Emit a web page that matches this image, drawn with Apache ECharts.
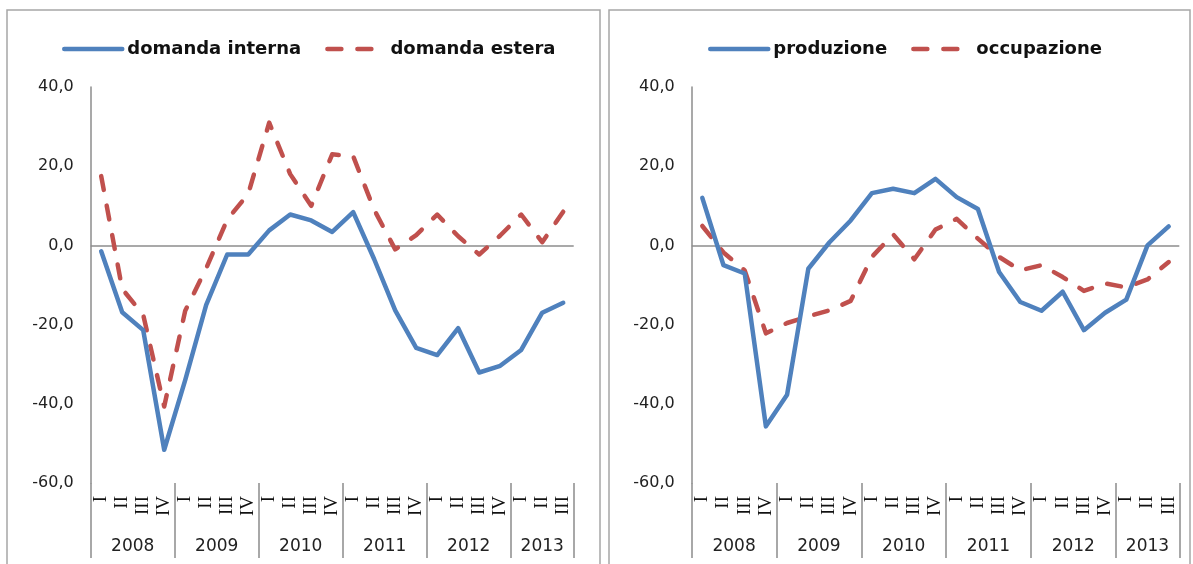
<!DOCTYPE html>
<html>
<head>
<meta charset="utf-8">
<script src="https://cdn.jsdelivr.net/npm/echarts@6/dist/echarts.min.js"></script>
<style>
  html, body { margin: 0; padding: 0; background: #fff; }
  #chart { width: 1193px; height: 564px; }
</style>
</head>
<body>
<div id="chart"></div>
<script>
// ---- data ----
const years = ['2008', '2009', '2010', '2011', '2012', '2013'];
const quartersPerYear = [4, 4, 4, 4, 4, 3];
const quarterNames = ['I', 'II', 'III', 'IV'];
const yTicks = { min: -60, max: 40, step: 20 };

const domandaInterna = [-1.5, -16.9, -21.4, -51.6, -34.0, -15.0, -2.3, -2.3, 3.8, 7.8, 6.3, 3.4, 8.4, -3.5, -16.4, -25.9, -27.7, -20.9, -32.1, -30.4, -26.4, -17.0, -14.5];
const domandaEstera  = [17.5, -11.0, -17.5, -40.7, -16.5, -5.8, 6.5, 13.0, 31.0, 18.0, 10.0, 23.0, 22.5, 9.0, -1.0, 2.6, 7.8, 2.3, -2.3, 2.5, 7.8, 0.8, 8.5];
const produzione     = [12.0, -5.0, -7.1, -45.7, -37.7, -5.9, 0.8, 6.3, 13.2, 14.3, 13.2, 16.8, 12.2, 9.2, -6.7, -14.3, -16.5, -11.7, -21.4, -17.0, -13.7, 0.0, 4.8];
const occupazione    = [4.9, -1.8, -6.3, -22.2, -19.6, -17.9, -16.4, -14.0, -2.9, 2.8, -3.5, 4.0, 6.7, 1.7, -2.9, -6.3, -5.0, -8.0, -11.5, -9.6, -10.6, -8.6, -4.2];

// derived category info
const quarterLabels = [];
const yearStarts = [];
const yearCenters = [];
let pos = 0;
quartersPerYear.forEach(function (n) {
  yearStarts.push(pos);
  yearCenters.push(pos + n / 2);
  for (let q = 0; q < n; q++) quarterLabels.push(quarterNames[q]);
  pos += n;
});
const nCats = quarterLabels.length;

// ---- styles ----
const BLUE = '#4F81BD';
const RED = '#C0504D';
const AXIS_GRAY = '#8C8C8C';
const LINE_W = 4.5;
const DASH = [14, 16];

function fmt(v) { return v.toFixed(1).replace('.', ','); }

function makeAxes(gi) {
  return {
    x: [
      {
        type: 'category', gridIndex: gi, data: quarterLabels, boundaryGap: true,
        axisLine: { show: false, onZero: false },
        axisTick: {
          show: true, length: 75,
          interval: function (i) { return yearStarts.indexOf(i) >= 0; },
          lineStyle: { color: AXIS_GRAY, width: 1.5 }
        },
        axisLabel: {
          interval: 0, rotate: 90, margin: 13,
          fontFamily: 'Liberation Serif', fontSize: 19, color: '#111'
        },
        splitLine: { show: false }
      },
      {
        type: 'value', gridIndex: gi, min: 0, max: nCats, position: 'bottom',
        axisLine: { show: false, onZero: false }, axisTick: { show: false }, splitLine: { show: false },
        axisLabel: {
          customValues: yearCenters, margin: 55,
          fontFamily: 'DejaVu Sans', fontSize: 17, color: '#222',
          formatter: function (v) {
            for (let i = 0; i < yearCenters.length; i++) {
              if (Math.abs(yearCenters[i] - v) < 1e-6) return years[i];
            }
            return '';
          }
        }
      }
    ],
    y: {
      type: 'value', gridIndex: gi, min: yTicks.min, max: yTicks.max, interval: yTicks.step,
      axisLine: { show: true, onZero: false, lineStyle: { color: AXIS_GRAY, width: 1.5 } },
      axisTick: { show: false },
      splitLine: { show: false },
      axisLabel: {
        formatter: fmt, margin: 17,
        fontFamily: 'DejaVu Sans', fontSize: 16, color: '#222'
      }
    }
  };
}

const a0 = makeAxes(0);
const a1 = makeAxes(1);

function lineSeries(name, data, color, dashed, xi, yi, withZero) {
  const s = {
    name: name, type: 'line', data: data,
    xAxisIndex: xi, yAxisIndex: yi,
    symbol: 'none', smooth: false, silent: true,
    lineStyle: { color: color, width: LINE_W, type: dashed ? DASH : 'solid', cap: 'round', join: 'round' },
    itemStyle: { color: color },
    z: dashed ? 3 : 4
  };
  if (withZero) {
    s.markLine = {
      silent: true, symbol: ['none', 'none'], label: { show: false },
      lineStyle: { color: AXIS_GRAY, width: 1.5, type: 'solid' },
      data: [{ yAxis: 0 }],
      z: 1
    };
  }
  return s;
}

const legendCommon = {
  itemWidth: 58, itemHeight: 14, itemGap: 24,
  lineStyle: { width: LINE_W },
  itemStyle: { color: 'rgba(0,0,0,0)', opacity: 0, borderWidth: 0 },
  textStyle: { fontFamily: 'DejaVu Sans', fontSize: 18, fontWeight: 'bold', color: '#111' }
};

const option = {
  animation: false,
  backgroundColor: '#fff',
  graphic: [
    { type: 'rect', shape: { x: 7, y: 10, width: 593, height: 580 }, style: { fill: 'none', stroke: '#A6A6A6', lineWidth: 1.5 }, silent: true },
    { type: 'rect', shape: { x: 609, y: 10, width: 581, height: 580 }, style: { fill: 'none', stroke: '#A6A6A6', lineWidth: 1.5 }, silent: true }
  ],
  legend: [
    Object.assign({}, legendCommon, { left: 57, top: 35, data: ['domanda interna', 'domanda estera'] }),
    Object.assign({}, legendCommon, { left: 703, top: 35, data: ['produzione', 'occupazione'] })
  ],
  grid: [
    { left: 90.7, top: 87, width: 483, height: 396, containLabel: false },
    { left: 691.7, top: 87, width: 487.6, height: 396, containLabel: false }
  ],
  xAxis: [a0.x[0], a0.x[1], a1.x[0], a1.x[1]],
  yAxis: [a0.y, a1.y],
  series: [
    lineSeries('domanda estera', domandaEstera, RED, true, 0, 0, true),
    lineSeries('domanda interna', domandaInterna, BLUE, false, 0, 0, false),
    lineSeries('occupazione', occupazione, RED, true, 2, 1, true),
    lineSeries('produzione', produzione, BLUE, false, 2, 1, false)
  ]
};

const chart = echarts.init(document.getElementById('chart'), null, { renderer: 'canvas' });
chart.setOption(option);
</script>
</body>
</html>
